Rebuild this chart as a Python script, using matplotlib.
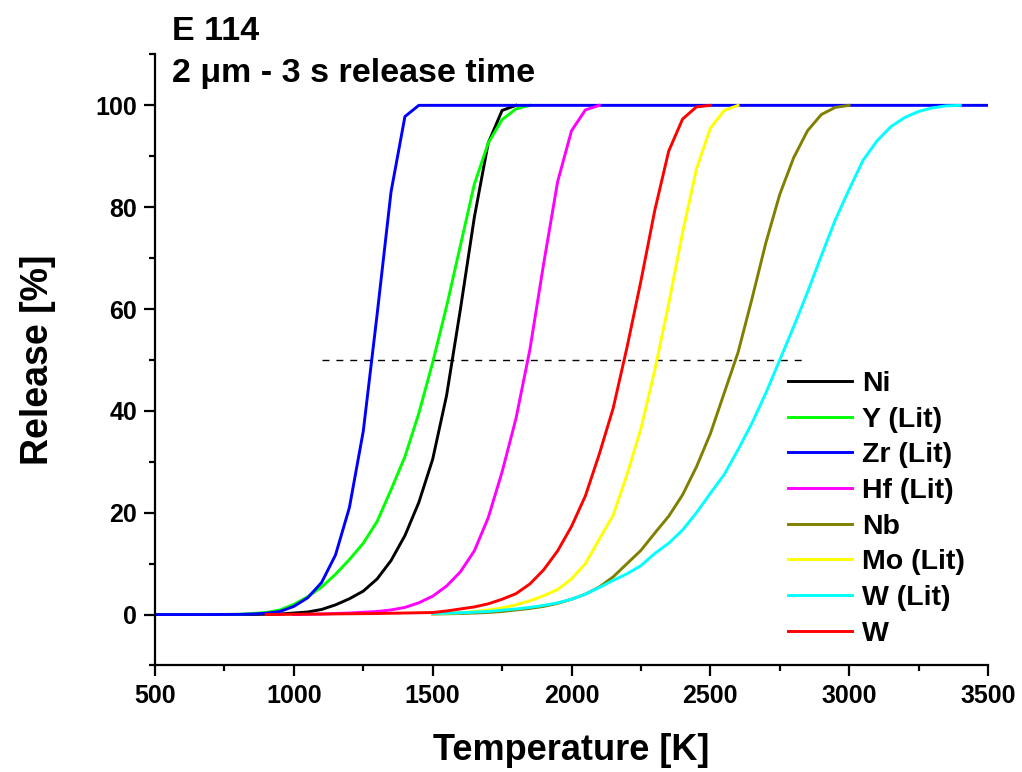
import matplotlib

matplotlib.use("Agg")
import matplotlib.pyplot as plt
from matplotlib.ticker import FixedLocator, MultipleLocator

plt.rcParams["font.family"] = ["Liberation Sans", "DejaVu Sans"]
plt.rcParams["font.weight"] = "bold"

# release curves, temperature [K] vs release [%]
ni_t = [500, 600, 700, 800, 900, 950, 1000, 1050, 1100, 1150, 1200, 1250, 1300, 1350,
        1400, 1450, 1500, 1550, 1600, 1650, 1700, 1750, 1800]
ni_r = [0, 0, 0, 0, 0.05, 0.1, 0.3, 0.5, 1.0, 1.9, 3.1, 4.6, 7.0, 10.6,
        15.5, 22.0, 30.5, 43.0, 60.0, 78.0, 92.6, 99.0, 100.0]

y_t = [500, 600, 700, 800, 850, 900, 950, 1000, 1050, 1100, 1150, 1200, 1250, 1300, 1350,
       1400, 1450, 1500, 1550, 1600, 1650, 1700, 1750, 1800, 1850]
y_r = [0, 0, 0, 0.05, 0.2, 0.4, 0.9, 2.0, 3.5, 5.4, 7.9, 10.8, 14.0, 18.3, 24.5,
       31.0, 39.5, 49.5, 60.5, 72.5, 84.5, 92.6, 97.2, 99.3, 100.0]

zr_t = [500, 600, 700, 800, 850, 900, 950, 1000, 1050, 1100, 1150, 1200, 1250, 1300,
        1350, 1400, 1450, 3500]
zr_r = [0, 0, 0, 0.03, 0.1, 0.25, 0.6, 1.6, 3.3, 6.3, 11.7, 21.0, 36.0, 59.0,
        83.0, 97.8, 100.0, 100.0]

hf_t = [1000, 1100, 1200, 1250, 1300, 1350, 1400, 1450, 1500, 1550, 1600, 1650, 1700,
        1750, 1800, 1850, 1900, 1950, 2000, 2050, 2100]
hf_r = [0, 0.1, 0.3, 0.45, 0.6, 0.9, 1.4, 2.3, 3.6, 5.6, 8.4, 12.5, 19.0,
        28.0, 38.5, 52.0, 69.0, 85.0, 95.0, 99.1, 100.0]

nb_t = [1500, 1600, 1700, 1750, 1800, 1850, 1900, 1950, 2000, 2050, 2100, 2150, 2200,
        2250, 2300, 2350, 2400, 2450, 2500, 2550, 2600, 2650, 2700, 2750, 2800, 2850,
        2900, 2950, 3000]
nb_r = [0.1, 0.2, 0.4, 0.6, 0.9, 1.2, 1.6, 2.2, 3.0, 4.0, 5.4, 7.4, 10.0,
        12.6, 16.0, 19.3, 23.5, 29.0, 35.5, 43.5, 51.5, 62.0, 73.0, 82.5, 89.7, 95.0,
        98.2, 99.6, 100.0]

mo_t = [1500, 1600, 1650, 1700, 1750, 1800, 1850, 1900, 1950, 2000, 2050, 2100, 2150,
        2200, 2250, 2300, 2350, 2400, 2450, 2500, 2550, 2600]
mo_r = [0.15, 0.35, 0.6, 0.9, 1.3, 1.9, 2.7, 3.7, 4.9, 7.0, 10.0, 14.8, 19.5,
        27.5, 36.5, 48.0, 61.0, 75.0, 87.5, 95.5, 99.0, 100.0]

wlit_t = [1500, 1600, 1700, 1800, 1850, 1900, 1950, 2000, 2050, 2100, 2150, 2200, 2250,
          2300, 2350, 2400, 2450, 2500, 2550, 2600, 2650, 2700, 2750, 2800, 2850, 2900,
          2950, 3000, 3050, 3100, 3150, 3200, 3250, 3300, 3350, 3400]
wlit_r = [0.2, 0.35, 0.6, 1.1, 1.4, 1.8, 2.3, 3.0, 4.0, 5.3, 6.7, 8.0, 9.6,
          12.0, 14.0, 16.6, 20.0, 23.8, 27.5, 32.4, 37.6, 43.5, 50.0, 56.5, 63.3, 70.5,
          77.5, 83.5, 89.2, 93.0, 95.8, 97.6, 98.8, 99.5, 99.9, 100.0]

w_t = [900, 1000, 1100, 1200, 1300, 1400, 1500, 1550, 1600, 1650, 1700, 1750, 1800,
       1850, 1900, 1950, 2000, 2050, 2100, 2150, 2200, 2250, 2300, 2350, 2400, 2450, 2500]
w_r = [0, 0.05, 0.1, 0.15, 0.2, 0.3, 0.4, 0.7, 1.1, 1.5, 2.1, 3.0, 4.1,
       6.0, 8.8, 12.5, 17.3, 23.3, 31.5, 40.5, 52.5, 65.5, 79.4, 91.0, 97.3, 99.7, 100.0]

series = [
    ("Ni", ni_t, ni_r, "black"),
    ("Y (Lit)", y_t, y_r, "#00ff00"),
    ("Zr (Lit)", zr_t, zr_r, "#0000ff"),
    ("Hf (Lit)", hf_t, hf_r, "#ff00ff"),
    ("Nb", nb_t, nb_r, "#808000"),
    ("Mo (Lit)", mo_t, mo_r, "#ffff00"),
    ("W (Lit)", wlit_t, wlit_r, "#00ffff"),
    ("W", w_t, w_r, "#ff0000"),
]

half_t = [1100, 2850]
half_r = [50, 50]


def main() -> None:
    fig = plt.figure(figsize=(10.22, 7.72), dpi=100)
    ax = fig.add_axes([0.1517, 0.138, 0.815, 0.7915])

    ax.plot(half_t, half_r, color="black", lw=1.0, ls=(0, (5, 5)))
    for label, t, r, color in series:
        ax.plot(t, r, color=color, lw=2.1, label=label)

    ax.set_xlim(500, 3500)
    ax.set_ylim(-10, 110)
    ax.xaxis.set_major_locator(MultipleLocator(500))
    ax.xaxis.set_minor_locator(MultipleLocator(250))
    ax.yaxis.set_major_locator(FixedLocator([0, 20, 40, 60, 80, 100]))
    ax.yaxis.set_minor_locator(FixedLocator(list(range(-10, 111, 10))))

    for side in ("top", "right"):
        ax.spines[side].set_visible(False)
    for side in ("left", "bottom"):
        ax.spines[side].set_linewidth(1.6)
    ax.tick_params(which="major", direction="out", length=8, width=1.6, labelsize=18, pad=5)
    ax.tick_params(which="minor", direction="out", length=4, width=1.6)
    for lbl in ax.get_xticklabels() + ax.get_yticklabels():
        lbl.set_fontweight("bold")

    ax.set_xlabel("Temperature [K]", fontsize=26, fontweight="bold", labelpad=18)
    ax.set_ylabel("Release [%]", fontsize=27, fontweight="bold", labelpad=28)

    fig.text(0.168, 0.948, "E 114", fontsize=24.5, fontweight="bold", va="baseline")
    fig.text(0.168, 0.894, "2 \u03bcm - 3 s release time", fontsize=24.5, fontweight="bold",
             va="baseline")

    ax.legend(loc="upper left", bbox_to_anchor=(0.76, 0.482), frameon=False,
              handlelength=2.25, handletextpad=0.35, labelspacing=0.34,
              borderpad=0, borderaxespad=0, prop={"weight": "bold", "size": 20.5})

    fig.savefig("out.png", dpi=100)
    plt.close(fig)


if __name__ == "__main__":
    main()
